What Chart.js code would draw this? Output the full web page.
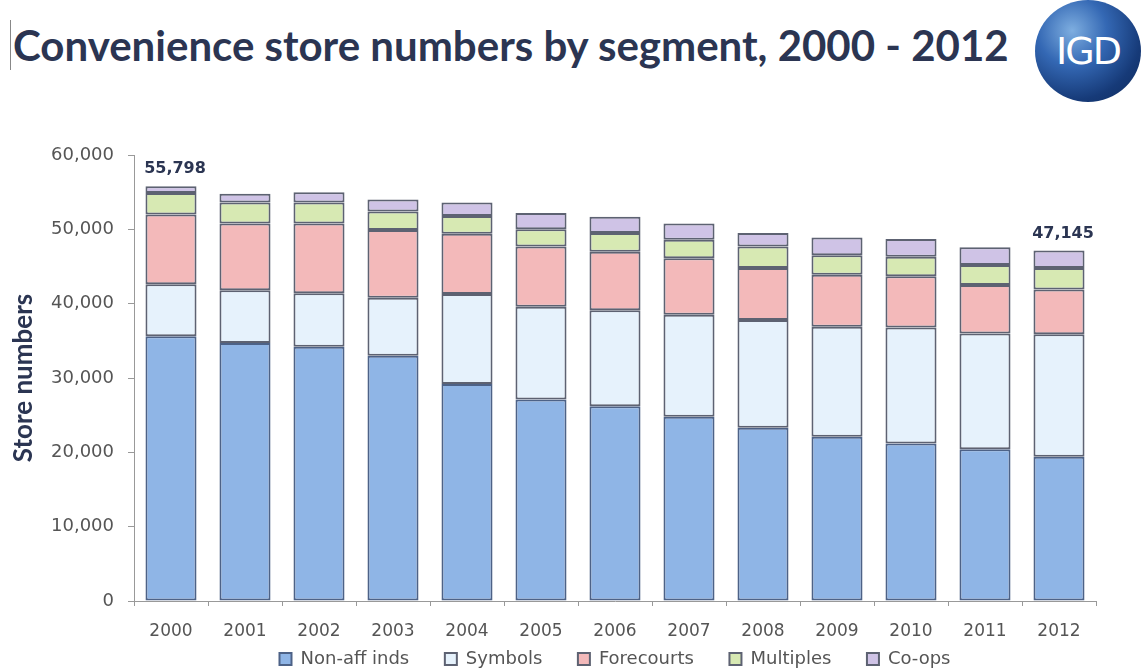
<!DOCTYPE html>
<html>
<head>
<meta charset="utf-8">
<script src="https://cdn.jsdelivr.net/npm/chart.js@4/dist/chart.umd.min.js"></script>
<style>
  html, body { margin: 0; padding: 0; background: #ffffff; }
  body { width: 1141px; height: 668px; position: relative; overflow: hidden; }
  #title {
    position: absolute; left: 10px; top: 20px;
    font-family: "Lato", "Open Sans", sans-serif; font-weight: 700;
    font-size: 42px; color: #2b3552; white-space: nowrap;
    padding-left: 2px; border-left: 1px solid #888;
    line-height: 50px;
  }
  #logo {
    position: absolute; left: 1035px; top: 0px; width: 106px; height: 102px;
    border-radius: 50%;
    background: radial-gradient(circle at 35% 30%, #7eaee0 0%, #3468b4 35%, #163a78 70%, #0e2a5c 100%);
    color: #ffffff; font-family: "DejaVu Sans", sans-serif; font-size: 38px;
    text-align: center; line-height: 102px; letter-spacing: -2px;
  }
  #wrap { position: absolute; left: 0; top: 120px; width: 1141px; height: 558px; }
</style>
</head>
<body>
<div id="title">Convenience store numbers by segment, 2000 - 2012</div>
<div id="logo">IGD</div>
<div id="wrap"><canvas id="c"></canvas></div>
<script>
// Store counts per year, split by convenience segment
const years = ['2000','2001','2002','2003','2004','2005','2006','2007','2008','2009','2010','2011','2012'];
const nonAffInds = [35600, 34700, 34200, 33000, 29200, 27100, 26200, 24800, 23300, 22100, 21200, 20400, 19400];
const symbols    = [7000, 7100, 7200, 7800, 12100, 12500, 12900, 13700, 14500, 14800, 15600, 15600, 16500];
const forecourts = [9400, 9000, 9400, 9100, 8100, 8100, 7900, 7600, 7000, 7000, 6900, 6500, 6000];
const multiples  = [2900, 2800, 2800, 2500, 2400, 2300, 2500, 2500, 2900, 2600, 2600, 2700, 2900];
const coops      = [898, 1200, 1400, 1600, 1800, 2200, 2200, 2200, 1800, 2400, 2400, 2400, 2345];
const totalLabelYears = ['2000', '2012'];
const yTicks = [0, 10000, 20000, 30000, 40000, 50000, 60000];

const FONT = '"DejaVu Sans", "Open Sans", sans-serif';
const TITLE_FONT = '"Lato", "Open Sans", sans-serif';

// Writes the stacked total above the chosen years' bars
const totalsPlugin = {
  id: 'totals',
  afterDatasetsDraw(chart) {
    const ctx = chart.ctx;
    const lastMeta = chart.getDatasetMeta(chart.data.datasets.length - 1);
    ctx.save();
    ctx.font = 'bold 16px ' + FONT;
    ctx.fillStyle = '#2b3552';
    ctx.textAlign = 'center';
    ctx.textBaseline = 'bottom';
    totalLabelYears.forEach(yr => {
      const i = chart.data.labels.indexOf(yr);
      const total = chart.data.datasets.reduce((s, d) => s + d.data[i], 0);
      const bar = lastMeta.data[i];
      ctx.fillText(total.toLocaleString('en-US'), bar.x + 4, bar.y - 9);
    });
    ctx.restore();
  }
};

const borderCol = '#5d6272';
function ds(label, data, fill, border) {
  return { label, data, backgroundColor: fill, borderColor: border || borderCol, borderWidth: 2,
           borderSkipped: false, categoryPercentage: 1.0, barPercentage: 0.69 };
}

// Legend entries get extra trailing space so items sit further apart
// without adding vertical padding around the legend row.
const LEGEND_GAP = '     ';
function legendLabels(chart) {
  const items = Chart.defaults.plugins.legend.labels.generateLabels(chart);
  items.forEach((it, i) => { if (i < items.length - 1) it.text = it.text + LEGEND_GAP; });
  return items;
}

new Chart(document.getElementById('c'), {
  type: 'bar',
  data: {
    labels: years,
    datasets: [
      ds('Non-aff inds', nonAffInds, '#8fb5e6', '#4d6287'),
      ds('Symbols', symbols, '#e6f2fc'),
      ds('Forecourts', forecourts, '#f3b9ba'),
      ds('Multiples', multiples, '#d7e9b3'),
      ds('Co-ops', coops, '#cfc3e6')
    ]
  },
  options: {
    responsive: true,
    maintainAspectRatio: false,
    animation: false,
    layout: { padding: { top: 35, right: 45, bottom: 0, left: 0 } },
    plugins: {
      tooltip: { enabled: false },
      legend: {
        position: 'bottom',
        fullSize: false,
        labels: {
          font: { family: FONT, size: 18 },
          color: '#555555',
          boxWidth: 12, boxHeight: 12, padding: 7,
          generateLabels: legendLabels
        }
      }
    },
    scales: {
      x: {
        stacked: true,
        grid: { display: true, drawOnChartArea: false, offset: true, tickLength: 5, color: '#999999' },
        border: { color: '#999999' },
        ticks: { font: { family: FONT, size: 17 }, color: '#555555', padding: 15, maxRotation: 0 },
        afterFit(s) { s.height = 42; }
      },
      y: {
        stacked: true,
        min: 0, max: 60000,
        afterBuildTicks(s) { s.ticks = yTicks.map(v => ({ value: v })); },
        grid: { display: true, drawOnChartArea: false, tickLength: 6, color: '#999999' },
        border: { color: '#999999' },
        ticks: {
          font: { family: FONT, size: 18 }, color: '#555555', padding: 14,
          callback: v => v.toLocaleString('en-US')
        },
        title: {
          display: true, text: 'Store numbers',
          font: { family: TITLE_FONT, size: 26, weight: 'bold' }, color: '#2b3552',
          padding: { top: 8, bottom: 0 }
        },
        afterFit(s) { s.width = 134; }
      }
    }
  },
  plugins: [totalsPlugin]
});
</script>
</body>
</html>
